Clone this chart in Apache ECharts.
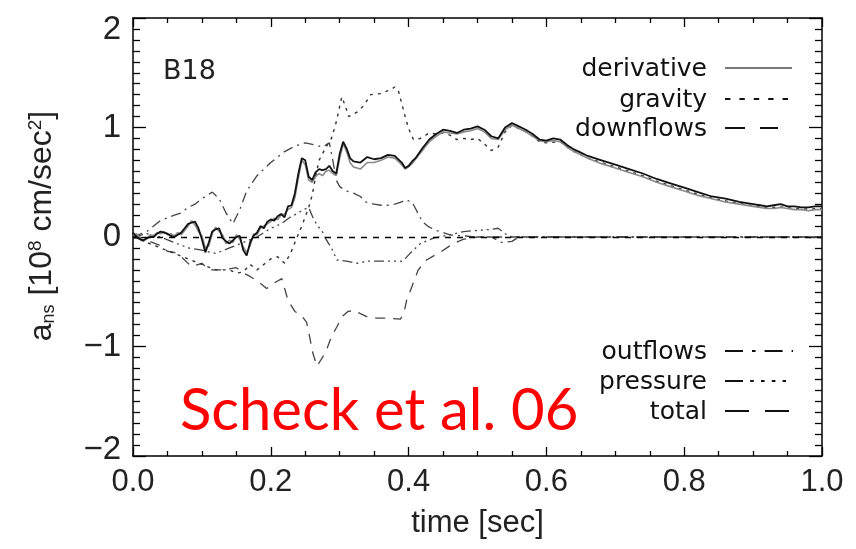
<!DOCTYPE html>
<html><head><meta charset="utf-8">
<script src="https://cdn.jsdelivr.net/npm/echarts@6/dist/echarts.min.js"></script>
<style>html,body{margin:0;padding:0;background:#fff}#c{width:856px;height:549px}</style>
</head><body><div id="c"></div>
<script>
// ---- data ----
const seriesNames = ['derivative','gravity','downflows','outflows','pressure','total'];
const xTickValues = [0, 0.2, 0.4, 0.6, 0.8, 1.0];
const yTickValues = [-2, -1, 0, 1, 2];

const tMain = [0,0.005,0.01,0.015,0.02,0.025,0.03,0.035,0.04,0.045,0.05,0.055,0.06,0.065,0.07,0.075,0.08,0.085,0.09,0.095,
 0.1,0.105,0.11,0.115,0.12,0.125,0.13,0.135,0.14,0.145,0.15,0.155,0.16,0.165,0.17,0.175,0.18,0.185,0.19,0.195,
 0.2,0.205,0.21,0.215,0.22,0.225,0.23,0.235,0.24,0.245,0.25,0.255,0.26,0.265,0.27,0.275,0.28,0.285,0.29,0.295,
 0.3,0.305,0.31,0.315,0.32,0.33,0.34,0.35,0.36,0.37,0.38,0.39,0.395,0.4,0.405,0.41,0.42,0.43,0.44,0.45,
 0.46,0.47,0.48,0.49,0.5,0.51,0.52,0.53,0.54,0.55,0.56,0.57,0.58,0.59,0.6,0.61,0.62,0.63,0.64,0.65,0.66,
 0.68,0.7,0.72,0.74,0.76,0.78,0.8,0.82,0.84,0.86,0.88,0.9,0.91,0.92,0.93,0.94,0.95,0.96,0.97,0.98,0.99,1.0];
const vTotal = [0.04,0.00,-0.02,-0.03,-0.01,0.00,0.00,0.03,0.05,0.04,0.03,0.01,0.00,0.02,0.04,0.08,0.12,0.13,0.14,0.08,
 -0.02,-0.14,-0.05,0.05,0.07,0.08,-0.01,-0.04,-0.06,-0.03,0.00,0.01,-0.12,-0.17,-0.05,0.01,0.04,0.10,0.08,0.14,
 0.16,0.15,0.19,0.21,0.18,0.28,0.29,0.40,0.58,0.72,0.70,0.55,0.52,0.59,0.62,0.61,0.62,0.65,0.60,0.58,
 0.76,0.87,0.81,0.72,0.69,0.68,0.73,0.71,0.72,0.75,0.74,0.68,0.63,0.65,0.69,0.72,0.81,0.89,0.94,0.98,
 0.97,0.95,0.98,0.99,1.01,0.98,0.92,0.90,1.00,1.04,1.01,0.98,0.94,0.89,0.88,0.90,0.89,0.84,0.80,0.77,0.74,
 0.70,0.66,0.62,0.58,0.53,0.49,0.45,0.41,0.37,0.35,0.32,0.30,0.29,0.28,0.29,0.30,0.28,0.28,0.27,0.27,0.28,0.28];
const vDerivative = [0.02,0.03,0.00,-0.04,-0.02,0.02,0.01,0.04,0.03,0.05,0.02,0.03,0.01,0.04,0.02,0.06,0.10,0.15,0.11,0.05,
 0.01,-0.10,-0.08,0.03,0.09,0.05,0.02,-0.06,-0.03,-0.05,0.02,-0.02,-0.09,-0.14,-0.08,0.03,0.02,0.08,0.10,0.12,
 0.14,0.17,0.16,0.20,0.21,0.25,0.27,0.36,0.54,0.70,0.66,0.52,0.50,0.55,0.58,0.56,0.60,0.61,0.58,0.56,
 0.72,0.85,0.78,0.68,0.64,0.62,0.68,0.68,0.70,0.73,0.72,0.66,0.62,0.64,0.67,0.71,0.79,0.87,0.92,0.96,
 0.95,0.94,0.96,0.97,0.99,0.96,0.90,0.89,0.98,1.02,0.99,0.96,0.92,0.88,0.87,0.88,0.87,0.82,0.78,0.75,0.72,
 0.67,0.63,0.59,0.55,0.50,0.46,0.42,0.38,0.35,0.32,0.30,0.28,0.27,0.26,0.26,0.27,0.26,0.25,0.25,0.24,0.25,0.25];

const tGravity = [0,0.02,0.04,0.06,0.08,0.1,0.12,0.14,0.15,0.16,0.17,0.18,0.19,0.2,0.21,0.22,0.228,0.235,0.245,0.255,
 0.26,0.265,0.27,0.28,0.288,0.295,0.303,0.308,0.313,0.325,0.335,0.345,0.36,0.375,0.38,0.385,0.39,0.395,0.4,0.407,
 0.417,0.43,0.44,0.45,0.46,0.47,0.48,0.49,0.5,0.51,0.52,0.53,0.54,0.55,0.56,0.57,0.58,0.59,0.6,0.62,0.64,0.66,
 0.68,0.7,0.72,0.74,0.76,0.78,0.8,0.82,0.84,0.86,0.88,0.9,0.92,0.94,0.96,0.98,1.0];
const vGravity = [0.00,-0.05,-0.10,-0.15,-0.20,-0.25,-0.30,-0.30,-0.33,-0.32,-0.25,-0.30,-0.25,-0.20,-0.18,-0.24,-0.16,-0.05,0.10,0.27,
 0.38,0.55,0.70,0.82,0.90,1.05,1.28,1.20,1.10,1.14,1.20,1.30,1.31,1.35,1.37,1.34,1.22,1.10,0.99,0.89,
 0.90,0.95,0.94,0.95,0.93,0.89,0.90,0.89,0.90,0.85,0.79,0.82,0.96,1.02,0.99,0.96,0.92,0.87,0.86,0.87,0.78,0.72,
 0.68,0.64,0.60,0.56,0.51,0.47,0.43,0.39,0.355,0.33,0.305,0.285,0.265,0.275,0.26,0.255,0.26];

const tDownflows = [0,0.02,0.04,0.05,0.06,0.07,0.085,0.1,0.11,0.13,0.15,0.16,0.17,0.184,0.194,0.205,0.216,0.225,0.235,0.245,
 0.252,0.256,0.261,0.267,0.275,0.281,0.288,0.296,0.303,0.312,0.322,0.33,0.34,0.355,0.369,0.388,0.393,0.397,0.405,0.414,
 0.426,0.437,0.448,0.465,0.48,0.5,0.6,0.8,1.0];
const vDownflows = [0.00,-0.03,-0.08,-0.13,-0.14,-0.18,-0.27,-0.24,-0.30,-0.30,-0.28,-0.33,-0.36,-0.42,-0.47,-0.42,-0.38,-0.58,-0.68,-0.72,
 -0.78,-0.90,-1.06,-1.18,-1.10,-1.03,-0.91,-0.82,-0.73,-0.68,-0.67,-0.70,-0.73,-0.74,-0.74,-0.75,-0.70,-0.58,-0.45,-0.30,
 -0.21,-0.17,-0.13,-0.06,-0.02,0.00,0.00,0.00,0.00];

const tOutflows = [0,0.02,0.04,0.06,0.07,0.08,0.09,0.1,0.115,0.125,0.135,0.145,0.155,0.165,0.18,0.2,0.22,0.235,0.25,0.265,
 0.275,0.285,0.29,0.295,0.3,0.31,0.32,0.33,0.34,0.35,0.36,0.37,0.38,0.39,0.395,0.405,0.41,0.415,0.42,0.43,
 0.44,0.45,0.46,0.48,0.5,0.52,0.535,0.55,0.56,0.6,0.8,1.0];
const vOutflows = [0.00,0.05,0.15,0.20,0.22,0.27,0.30,0.35,0.41,0.35,0.22,0.12,0.25,0.42,0.56,0.68,0.78,0.83,0.86,0.84,
 0.82,0.86,0.70,0.52,0.46,0.42,0.40,0.37,0.31,0.30,0.29,0.29,0.30,0.32,0.34,0.32,0.26,0.20,0.14,0.09,
 0.06,0.04,0.02,0.01,0.00,0.00,-0.05,-0.04,0.00,0.00,0.00,0.00];

const tPressure = [0,0.02,0.04,0.06,0.08,0.1,0.12,0.14,0.16,0.18,0.2,0.215,0.228,0.24,0.247,0.255,0.261,0.268,0.274,0.28,
 0.288,0.296,0.31,0.325,0.34,0.36,0.392,0.402,0.417,0.436,0.46,0.48,0.5,0.52,0.53,0.54,0.55,0.6,0.8,1.0];
const vPressure = [0.00,0.03,0.00,-0.05,-0.10,-0.12,-0.15,-0.10,-0.05,0.00,0.08,0.12,0.18,0.22,0.25,0.27,0.18,0.10,0.06,-0.02,
 -0.10,-0.21,-0.22,-0.24,-0.22,-0.22,-0.22,-0.15,-0.06,-0.01,0.02,0.05,0.06,0.07,0.08,0.03,0.00,0.00,0.00,0.00];

// ---- chart ----
const zip = (t, v) => t.map((x, i) => [x, v[i]]);
const chart = echarts.init(document.getElementById('c'), null, {renderer: 'canvas'});
const G = {left: 133, right: 34, top: 18, bottom: 93};
const axisCol = '#000';
const labFont = "'Liberation Sans', Arial, sans-serif";
const geoFont = "'DejaVu Sans', sans-serif";

function xAx(pos, show) {
  return {type: 'value', position: pos, min: 0, max: 1, interval: 0.2,
    axisLine: {show: true, onZero: false, lineStyle: {color: axisCol, width: 1.5}},
    axisTick: {show: true, inside: true, length: 9, lineStyle: {color: axisCol, width: 1.3}},
    minorTick: {show: true, splitNumber: 4, length: 5, lineStyle: {color: axisCol, width: 1.3}},
    splitLine: {show: false}, minorSplitLine: {show: false},
    axisLabel: {show: show, margin: 11, fontSize: 31, color: '#222', fontFamily: labFont,
      formatter: v => xTickValues.indexOf(+v.toFixed(1)) >= 0 ? v.toFixed(1) : ''},
    name: show ? 'time [sec]' : '', nameLocation: 'middle', nameGap: 52,
    nameTextStyle: {fontSize: 31, color: '#222', fontFamily: labFont}};
}
function yAx(pos, show) {
  const rs = {fontSize: 33, color: '#222', fontFamily: labFont};
  return {type: 'value', position: pos, min: -2, max: 2, interval: 1,
    axisLine: {show: true, onZero: false, lineStyle: {color: axisCol, width: 1.5}},
    axisTick: {show: true, inside: true, length: 13, lineStyle: {color: axisCol, width: 1.3}},
    minorTick: {show: true, splitNumber: 10, length: 7, lineStyle: {color: axisCol, width: 1.3}},
    splitLine: {show: false}, minorSplitLine: {show: false},
    axisLabel: {show: show, margin: 12, fontSize: 33, color: '#222', fontFamily: labFont,
      rich: {top: Object.assign({padding: [24, 0, 0, 0]}, rs), bot: Object.assign({padding: [0, 0, 12, 0]}, rs)},
      formatter: v => {
        if (yTickValues.indexOf(v) < 0) return '';
        const s = v < 0 ? '\u2212' + Math.abs(v) : String(v);
        if (v === 2) return '{top|' + s + '}';
        if (v === -2) return '{bot|' + s + '}';
        return s;
      }}};
}

const styles = {
  derivative: {color: '#8a8a8a', width: 1.6, type: 'solid'},
  gravity:    {color: '#333', width: 1.4, type: [3, 5]},
  downflows:  {color: '#444', width: 1.3, type: [10, 8]},
  outflows:   {color: '#444', width: 1.3, type: [10, 5, 2, 5]},
  pressure:   {color: '#444', width: 1.3, type: [10, 4, 2, 4, 2, 4, 2, 4]},
  total:      {color: '#111', width: 1.8, type: 'solid'}
};
const seriesData = {
  derivative: zip(tMain, vDerivative),
  gravity: zip(tGravity, vGravity),
  downflows: zip(tDownflows, vDownflows),
  outflows: zip(tOutflows, vOutflows),
  pressure: zip(tPressure, vPressure),
  total: zip(tMain, vTotal)
};
const series = ['downflows','outflows','pressure','gravity','derivative','total'].map(n => ({
  name: n, type: 'line', data: seriesData[n], showSymbol: false, symbol: 'none',
  lineStyle: styles[n], animation: false, z: n === 'total' ? 5 : 3,
  markLine: n === 'downflows' ? {silent: true, symbol: ['none','none'], label: {show: false},
    lineStyle: {color: '#000', width: 1.4, type: [6, 6]}, data: [{yAxis: 0}]} : undefined
}));

// legend drawn as graphic text + line samples
const legTop = [['derivative', 68, styles.derivative, 792], ['gravity', 99, styles.gravity, 790], ['downflows', 128, styles.downflows, 778]];
const legBot = [['outflows', 351, styles.outflows, 793], ['pressure', 381, styles.pressure, 786], ['total', 411, styles.total, 790]];
const graphics = [];
[...legTop, ...legBot].forEach(([txt, y, st, x2]) => {
  graphics.push({type: 'text', right: 856 - 707, top: y - 11, silent: true,
    style: {text: txt, fontSize: 25, fontFamily: geoFont, fill: '#111', textAlign: 'right'}});
  let dash = st.type === 'solid' ? null : st.type.map(d => d * 1.8);
  if (txt === 'total') dash = [24, 16];
  if (txt === 'downflows') dash = [20, 15];
  graphics.push({type: 'line', silent: true, shape: {x1: 725, y1: y, x2: x2, y2: y},
    style: {stroke: txt === 'derivative' ? '#777' : '#111', lineWidth: 2.2, lineDash: dash}});
});
graphics.push({type: 'text', left: 163, top: 58, silent: true,
  style: {text: 'B18', fontSize: 27, fontFamily: geoFont, fill: '#222'}});
graphics.push({type: 'text', left: 180, top: 382, silent: true,
  style: {text: 'Scheck et al. 06', fontSize: 58, fontFamily: "Lato, 'Liberation Sans', sans-serif", fill: '#ff0000'}});
graphics.push({type: 'text', x: 42, y: 226, rotation: Math.PI / 2, silent: true,
  style: {text: '{a|a}{s|ns}{a| [10}{p|8}{a| cm/sec}{p|2}{a|]}', textAlign: 'center', textVerticalAlign: 'middle',
    rich: {
      a: {fontSize: 32, fontFamily: labFont, fill: '#222', lineHeight: 40, verticalAlign: 'middle'},
      s: {fontSize: 18, fontFamily: labFont, fill: '#222', lineHeight: 40, verticalAlign: 'bottom', padding: [0, 0, 4, 0]},
      p: {fontSize: 19, fontFamily: labFont, fill: '#222', lineHeight: 40, verticalAlign: 'top', padding: [4, 0, 0, 0]}
    }}});

chart.setOption({
  animation: false,
  backgroundColor: '#fff',
  grid: G,
  xAxis: [xAx('bottom', true), xAx('top', false)],
  yAxis: [yAx('left', true), yAx('right', false)],
  series: series,
  graphic: graphics
});
</script>
</body></html>
